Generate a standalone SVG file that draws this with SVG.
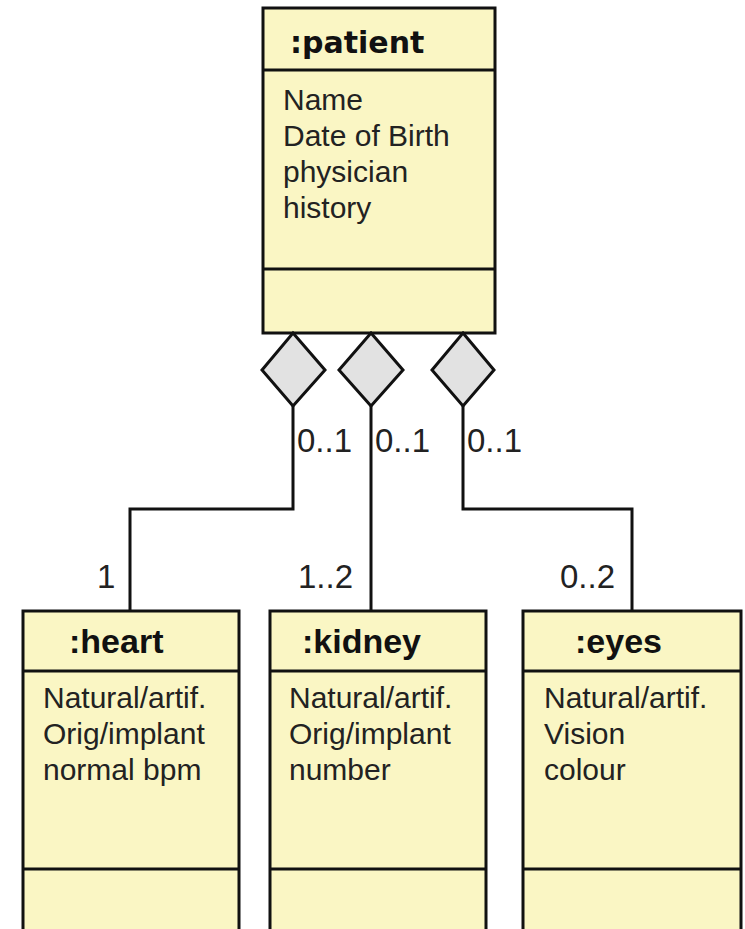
<svg xmlns="http://www.w3.org/2000/svg" width="745" height="929" viewBox="0 0 745 929">
<style>
.box{fill:#FAF6C4;stroke:#111;stroke-width:3}
.div{stroke:#111;stroke-width:3;fill:none}
.ttl{font-family:"Liberation Sans",Arial,sans-serif;font-weight:bold;font-size:34px;fill:#111}
.ttlp{font-family:"DejaVu Sans",sans-serif;font-weight:bold;font-size:30px;fill:#111}
.attr{font-family:"Liberation Sans",Arial,sans-serif;font-size:30px;fill:#222}
.mult{font-family:"Liberation Sans",Arial,sans-serif;font-size:33px;fill:#222}
.conn{stroke:#111;stroke-width:3;fill:none}
.dia{fill:#E2E2E2;stroke:#111;stroke-width:3;stroke-linejoin:miter}
</style>
<rect width="745" height="929" fill="#fff"/>
<g id="patient">
<rect class="box" x="263" y="8" width="232" height="325"/>
<line class="div" x1="263" y1="70" x2="495" y2="70"/>
<line class="div" x1="263" y1="269" x2="495" y2="269"/>
<text class="ttlp" x="290" y="53">:patient</text>
<text class="attr" x="283" y="110">Name</text>
<text class="attr" x="283" y="146">Date of Birth</text>
<text class="attr" x="283" y="182">physician</text>
<text class="attr" x="283" y="218">history</text>
</g>
<g id="heart">
<rect class="box" x="23" y="611" width="216" height="330"/>
<line class="div" x1="23" y1="671" x2="239" y2="671"/>
<line class="div" x1="23" y1="869" x2="239" y2="869"/>
<text class="ttl" x="69" y="653">:heart</text>
<text class="attr" x="43" y="708">Natural/artif.</text>
<text class="attr" x="43" y="744">Orig/implant</text>
<text class="attr" x="43" y="780">normal bpm</text>
</g>
<g id="kidney">
<rect class="box" x="270" y="611" width="216" height="330"/>
<line class="div" x1="270" y1="671" x2="486" y2="671"/>
<line class="div" x1="270" y1="869" x2="486" y2="869"/>
<text class="ttl" x="302" y="653">:kidney</text>
<text class="attr" x="289" y="708">Natural/artif.</text>
<text class="attr" x="289" y="744">Orig/implant</text>
<text class="attr" x="289" y="780">number</text>
</g>
<g id="eyes">
<rect class="box" x="523" y="611" width="218" height="330"/>
<line class="div" x1="523" y1="671" x2="741" y2="671"/>
<line class="div" x1="523" y1="869" x2="741" y2="869"/>
<text class="ttl" x="575" y="653">:eyes</text>
<text class="attr" x="544" y="708">Natural/artif.</text>
<text class="attr" x="544" y="744">Vision</text>
<text class="attr" x="544" y="780">colour</text>
</g>
<g id="connectors">
<polyline class="conn" points="293,406 293,509 130,509 130,611"/>
<polyline class="conn" points="371,406 371,611"/>
<polyline class="conn" points="463,406 463,509 632,509 632,611"/>
<polygon class="dia" points="293,333 325,370 293,406 262,370"/>
<polygon class="dia" points="371,333 403,370 371,406 339,370"/>
<polygon class="dia" points="463,333 494,370 463,406 432,370"/>
<text class="mult" x="297" y="452">0..1</text>
<text class="mult" x="375" y="452">0..1</text>
<text class="mult" x="467" y="452">0..1</text>
<text class="mult" x="97" y="588">1</text>
<text class="mult" x="298" y="588">1..2</text>
<text class="mult" x="560" y="588">0..2</text>
</g>
</svg>
